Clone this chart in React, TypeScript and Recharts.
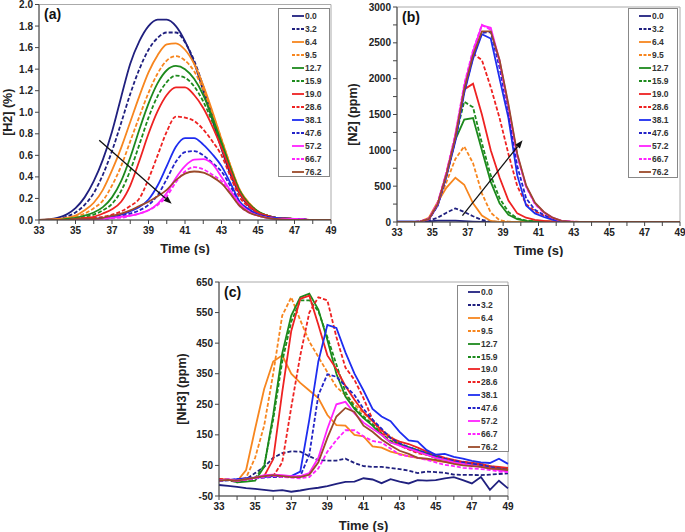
import { LineChart, Line, XAxis, YAxis, ReferenceArea, ReferenceLine, Legend } from 'recharts'

const FONT = '"Liberation Sans", Arial, sans-serif'

// legend entries shared by all three panels
const labels = ['0.0', '3.2', '6.4', '9.5', '12.7', '15.9', '19.0', '28.6', '38.1', '47.6', '57.2', '66.7', '76.2']
const colors = ['#20207f', '#20207f', '#f7861f', '#f7861f', '#1d8a1d', '#1d8a1d', '#ee2222', '#ee2222', '#1e2df0', '#2424c8', '#ff22ff', '#ff22ff', '#9b4a2a']
const dashed = [false, true, false, true, false, true, false, true, false, true, false, true, false]

const timeTicks = [33, 34, 35, 36, 37, 38, 39, 40, 41, 42, 43, 44, 45, 46, 47, 48, 49]

// (a) H2 (%)
const timeA = [33, 34, 34.5, 35, 35.5, 36, 36.5, 37, 37.5, 38, 38.5, 39, 39.5, 40, 40.5, 41, 41.5, 42, 42.5, 43, 43.5, 44, 44.5, 45, 45.5, 46, 47, 48, 49]
const h2_00 = [0, 0.02, 0.05, 0.11, 0.21, 0.36, 0.56, 0.82, 1.14, 1.45, 1.66, 1.80, 1.86, 1.86, 1.80, 1.66, 1.46, 1.20, 0.93, 0.66, 0.42, 0.24, 0.13, 0.07, 0.04, 0.02, 0.01, 0, 0]
const h2_32 = [0, 0.01, 0.03, 0.07, 0.14, 0.25, 0.42, 0.64, 0.90, 1.17, 1.40, 1.58, 1.69, 1.74, 1.74, 1.65, 1.48, 1.24, 0.97, 0.70, 0.45, 0.25, 0.14, 0.07, 0.04, 0.02, 0.01, 0, 0]
const h2_64 = [0, 0.01, 0.02, 0.04, 0.09, 0.16, 0.28, 0.46, 0.67, 0.91, 1.15, 1.37, 1.53, 1.63, 1.64, 1.58, 1.45, 1.25, 1.01, 0.75, 0.50, 0.28, 0.16, 0.08, 0.04, 0.02, 0.01, 0, 0]
const h2_95 = [0, 0, 0.01, 0.03, 0.06, 0.11, 0.18, 0.32, 0.50, 0.73, 0.96, 1.18, 1.36, 1.48, 1.52, 1.48, 1.38, 1.21, 0.99, 0.75, 0.50, 0.28, 0.16, 0.08, 0.04, 0.02, 0.01, 0, 0]
const h2_127 = [0, 0, 0.01, 0.02, 0.04, 0.07, 0.12, 0.21, 0.36, 0.58, 0.84, 1.08, 1.27, 1.39, 1.43, 1.40, 1.31, 1.16, 0.95, 0.72, 0.48, 0.27, 0.15, 0.08, 0.04, 0.02, 0.01, 0, 0]
const h2_159 = [0, 0, 0, 0.01, 0.03, 0.05, 0.09, 0.15, 0.27, 0.46, 0.70, 0.95, 1.15, 1.28, 1.34, 1.32, 1.24, 1.10, 0.91, 0.70, 0.47, 0.26, 0.15, 0.08, 0.04, 0.02, 0.01, 0, 0]
const h2_190 = [0, 0, 0, 0.01, 0.02, 0.03, 0.06, 0.10, 0.17, 0.32, 0.55, 0.80, 1.01, 1.16, 1.23, 1.23, 1.16, 1.04, 0.87, 0.67, 0.45, 0.25, 0.14, 0.07, 0.04, 0.02, 0.01, 0, 0]
const h2_286 = [0, 0, 0, 0, 0.01, 0.02, 0.03, 0.05, 0.08, 0.13, 0.20, 0.38, 0.60, 0.82, 0.96, 0.95, 0.92, 0.84, 0.73, 0.60, 0.40, 0.21, 0.12, 0.06, 0.03, 0.02, 0.01, 0, 0]
const h2_381 = [0, 0, 0, 0, 0, 0.01, 0.02, 0.03, 0.05, 0.08, 0.12, 0.19, 0.32, 0.50, 0.68, 0.76, 0.76, 0.70, 0.61, 0.50, 0.34, 0.17, 0.10, 0.05, 0.03, 0.02, 0.01, 0, 0]
const h2_476 = [0, 0, 0, 0, 0, 0, 0.01, 0.02, 0.04, 0.06, 0.09, 0.14, 0.23, 0.38, 0.54, 0.63, 0.64, 0.60, 0.53, 0.45, 0.31, 0.16, 0.09, 0.05, 0.03, 0.01, 0.01, 0, 0]
const h2_572 = [0, 0, 0, 0, 0, 0, 0.01, 0.02, 0.03, 0.04, 0.06, 0.09, 0.15, 0.25, 0.39, 0.50, 0.56, 0.565, 0.52, 0.40, 0.27, 0.15, 0.08, 0.04, 0.02, 0.01, 0.01, 0, 0]
const h2_667 = [0, 0, 0, 0, 0, 0, 0.01, 0.02, 0.02, 0.04, 0.06, 0.09, 0.14, 0.22, 0.35, 0.45, 0.49, 0.47, 0.42, 0.36, 0.25, 0.13, 0.07, 0.04, 0.02, 0.01, 0.01, 0, 0]
const h2_762 = [0, 0, 0, 0.01, 0.01, 0.01, 0.02, 0.04, 0.06, 0.09, 0.13, 0.17, 0.22, 0.28, 0.37, 0.43, 0.45, 0.44, 0.40, 0.34, 0.24, 0.13, 0.07, 0.04, 0.02, 0.01, 0, 0, 0]
const h2 = [h2_00, h2_32, h2_64, h2_95, h2_127, h2_159, h2_190, h2_286, h2_381, h2_476, h2_572, h2_667, h2_762]

// (b) N2 (ppm)
const timeB = [33, 33.8, 34.3, 34.8, 35.3, 35.8, 36.3, 36.8, 37.3, 37.8, 38.3, 38.8, 39.3, 39.8, 40.3, 40.8, 41.3, 41.8, 42.3, 42.8, 43.8, 44.8, 45.8, 46.8, 47.8, 49]
const n2_00 = [5, 5, 2, 10, 18, 20, 18, 12, 6, 2, 0, 0, 0, 0, 0, 0, 0, 0, 0, 0, 0, 0, 0, 0, 0, 0]
const n2_32 = [0, 0, 2, 20, 60, 130, 190, 140, 80, 30, 5, 0, 0, 0, 0, 0, 0, 0, 0, 0, 0, 0, 0, 0, 0, 0]
const n2_64 = [0, 0, 5, 60, 280, 480, 618, 520, 260, 90, 15, 0, 0, 0, 5, 10, 10, 5, 0, 0, 0, 0, 0, 0, 0, 0]
const n2_95 = [0, 0, 5, 40, 250, 560, 880, 1055, 820, 400, 130, 25, 5, 0, 5, 10, 10, 5, 0, 0, 0, 0, 0, 0, 0, 0]
const n2_127 = [0, 0, 5, 40, 250, 650, 1150, 1430, 1450, 1000, 560, 260, 100, 40, 15, 10, 5, 0, 0, 0, 0, 0, 0, 0, 0, 0]
const n2_159 = [0, 0, 5, 40, 250, 670, 1180, 1679, 1600, 1100, 650, 330, 140, 50, 20, 10, 5, 0, 0, 0, 0, 0, 0, 0, 0, 0]
const n2_190 = [0, 0, 5, 40, 250, 680, 1190, 1850, 1930, 1500, 1000, 620, 300, 120, 60, 30, 15, 5, 0, 0, 0, 0, 0, 0, 0, 0]
const n2_286 = [0, 0, 5, 40, 250, 680, 1200, 1860, 2350, 2260, 1880, 1450, 950, 500, 250, 150, 90, 50, 15, 5, 0, 0, 0, 0, 0, 0]
const n2_381 = [5, 5, 5, 35, 230, 640, 1130, 1800, 2280, 2620, 2560, 2000, 1450, 650, 230, 120, 70, 30, 8, 3, 0, 0, 0, 0, 0, 0]
const n2_476 = [0, 0, 5, 35, 230, 650, 1150, 1820, 2300, 2640, 2650, 2150, 1520, 780, 330, 170, 100, 45, 12, 3, 0, 0, 0, 0, 0, 0]
const n2_572 = [0, 0, 5, 40, 250, 680, 1200, 1900, 2380, 2745, 2710, 2250, 1620, 930, 500, 260, 140, 60, 15, 5, 0, 0, 0, 0, 0, 0]
const n2_667 = [0, 0, 5, 45, 270, 700, 1230, 1920, 2400, 2750, 2680, 2230, 1600, 920, 490, 250, 130, 55, 12, 4, 0, 0, 0, 0, 0, 0]
const n2_762 = [0, 0, 5, 40, 250, 670, 1180, 1850, 2330, 2660, 2660, 2260, 1640, 950, 510, 270, 140, 60, 15, 5, 0, 0, 0, 0, 0, 0]
const n2 = [n2_00, n2_32, n2_64, n2_95, n2_127, n2_159, n2_190, n2_286, n2_381, n2_476, n2_572, n2_667, n2_762]

// (c) NH3 (ppm)
const timeC = [33, 33.5, 34, 34.5, 35, 35.5, 36, 36.5, 37, 37.5, 38, 38.5, 39, 39.5, 40, 40.5, 41, 41.5, 42, 42.5, 43, 43.5, 44, 44.5, 45, 45.5, 46, 46.5, 47, 47.5, 48, 48.5, 49]
const nh3_00 = [-14, -17, -20, -24, -27, -30, -33, -31, -36, -32, -27, -23, -18, -10, -4, -3, 8, 4, -8, 5, -3, -9, 2, 0, 2, 8, 12, 2, -9, 12, -30, 0, -25]
const nh3_32 = [0, 2, -5, 5, 25, 45, 75, 90, 96, 95, 80, 67, 66, 66, 72, 58, 48, 45, 45, 42, 38, 33, 25, 30, 28, 26, 20, 19, 19, 18, 20, 22, 24]
const nh3_64 = [5, 3, -2, 35, 170, 300, 390, 410, 350, 320, 295, 270, 215, 182, 180, 150, 145, 112, 108, 95, 88, 80, 75, 70, 65, 62, 58, 55, 52, 48, 45, 42, 40]
const nh3_95 = [5, 3, 0, 10, 75, 180, 350, 540, 600, 525, 455, 405, 355, 307, 280, 250, 220, 195, 165, 145, 120, 105, 95, 85, 78, 72, 65, 58, 55, 50, 45, 40, 35]
const nh3_127 = [0, 5, -5, -3, 0, 45, 215, 416, 540, 600, 612, 560, 460, 350, 275, 235, 205, 180, 150, 125, 118, 105, 95, 85, 75, 70, 63, 58, 55, 52, 45, 40, 35]
const nh3_159 = [0, 3, -3, 0, 8, 50, 200, 390, 520, 590, 590, 555, 470, 380, 290, 240, 210, 185, 155, 130, 120, 110, 100, 90, 80, 72, 65, 60, 58, 55, 48, 42, 38]
const nh3_190 = [5, 3, 0, 5, 10, 15, 70, 290, 490, 595, 605, 510, 410, 365, 310, 265, 225, 195, 165, 140, 128, 120, 108, 95, 85, 75, 68, 62, 58, 55, 48, 45, 42]
const nh3_286 = [5, 3, 0, 5, 10, 15, 15, 60, 240, 410, 550, 600, 590, 470, 370, 330, 270, 200, 155, 140, 115, 102, 90, 85, 75, 70, 65, 60, 58, 52, 45, 40, 38]
const nh3_381 = [0, 2, 5, 8, 10, 12, 15, 15, 15, 30, 200, 390, 510, 500, 420, 350, 295, 235, 210, 195, 160, 132, 128, 100, 85, 88, 78, 72, 65, 60, 58, 72, 55]
const nh3_476 = [0, 2, 5, 5, 8, 10, 12, 12, 12, 15, 85, 280, 348, 340, 310, 280, 235, 200, 170, 140, 122, 110, 100, 90, 80, 72, 65, 60, 55, 52, 45, 40, 35]
const nh3_572 = [0, 5, 0, 5, 10, 18, 20, 18, 15, 15, 25, 75, 170, 250, 258, 220, 190, 170, 150, 125, 115, 105, 95, 85, 75, 68, 60, 55, 50, 45, 40, 35, 30]
const nh3_667 = [0, 3, 0, 3, 8, 12, 15, 12, 10, 8, 12, 40, 95, 133, 165, 165, 145, 130, 125, 105, 85, 80, 75, 68, 60, 52, 48, 42, 40, 38, 35, 30, 28]
const nh3_762 = [0, 3, 0, 5, 10, 15, 18, 15, 12, 12, 20, 60, 140, 210, 238, 225, 180, 160, 135, 115, 98, 88, 75, 72, 68, 62, 55, 50, 48, 45, 40, 38, 35]
const nh3 = [nh3_00, nh3_32, nh3_64, nh3_95, nh3_127, nh3_159, nh3_190, nh3_286, nh3_381, nh3_476, nh3_572, nh3_667, nh3_762]

const ticksA = [0, 0.2, 0.4, 0.6, 0.8, 1.0, 1.2, 1.4, 1.6, 1.8, 2.0]
const ticksB = [0, 250, 500, 750, 1000, 1250, 1500, 1750, 2000, 2250, 2500, 2750, 3000]
const ticksC = [-50, 50, 150, 250, 350, 450, 550, 650]

function toRows(times: number[], series: number[][]) {
  return times.map((t, i) => {
    const row: any = { t }
    series.forEach((s, j) => { row['s' + j] = s[i] })
    return row
  })
}

const Arrow = (p: any) => {
  const { x1, y1, x2, y2 } = p
  const a = Math.atan2(y2 - y1, x2 - x1)
  const L = 8, W = 3
  const bx = x2 - L * Math.cos(a), by = y2 - L * Math.sin(a)
  const pts = `${x2},${y2} ${bx - W * Math.sin(a)},${by + W * Math.cos(a)} ${bx + W * Math.sin(a)},${by - W * Math.cos(a)}`
  return (
    <g>
      <line x1={x1} y1={y1} x2={bx} y2={by} stroke="#111" strokeWidth={1.3} />
      <polygon points={pts} fill="#111" />
    </g>
  )
}

function LegendBox({ w, h, padL, rowH }: any) {
  return (
    <div style={{ width: w, height: h, border: '1px solid #888', background: '#fff', boxSizing: 'border-box', fontFamily: FONT }}>
      {labels.map((l, j) => (
        <div key={l} style={{ height: rowH, display: 'flex', alignItems: 'center', paddingLeft: padL }}>
          <svg width={12} height={4} style={{ display: 'block' }}>
            <line x1={0} y1={2} x2={12} y2={2} stroke={colors[j]} strokeWidth={1.8} strokeDasharray={dashed[j] ? '3 1.5' : undefined} />
          </svg>
          <span style={{ fontSize: 8.5, fontWeight: 'bold', color: '#333', marginLeft: 1, lineHeight: '8px' }}>{l}</span>
        </div>
      ))}
    </div>
  )
}

function Panel(props: any) {
  const { left, top, width, height, margin, yWidth, xHeight, rows, yDomain, yTicks, yFmt, yLabel, yLabelOff, letter, arrow, curve, legend } = props
  const tickStyle = { fontSize: 10, fontWeight: 'bold', fill: '#222', fontFamily: FONT }
  return (
    <div style={{ position: 'absolute', left, top }}>
      <LineChart width={width} height={height} data={rows} margin={margin}>
        <ReferenceArea x1={33} x2={49} y1={yDomain[0]} y2={yDomain[1]} fill="none" stroke="#aaa" strokeWidth={1}
          label={{ value: letter, position: 'insideTopLeft', offset: 5, fontSize: 14, fontWeight: 'bold', fill: '#111', fontFamily: FONT }} />
        <XAxis dataKey="t" type="number" domain={[33, 49]} ticks={timeTicks} interval={0} height={xHeight}
          tickFormatter={(v: number) => (v % 2 === 1 ? String(v) : '')} tick={tickStyle}
          stroke="#444" tickSize={4} tickMargin={3}
          label={{ value: 'Time (s)', position: 'insideBottom', offset: 2, fontSize: 13, fontWeight: 'bold', fill: '#222', fontFamily: FONT }} />
        <YAxis type="number" domain={yDomain} ticks={yTicks} interval={0} width={yWidth} allowDataOverflow
          tickFormatter={yFmt} tick={tickStyle} stroke="#444" tickSize={4} tickMargin={2}
          label={{ value: yLabel, angle: -90, position: 'insideLeft', offset: yLabelOff, fontSize: 12.5, fontWeight: 'bold', fill: '#222', fontFamily: FONT, style: { textAnchor: 'middle' } }} />
        {labels.map((l, j) => (
          <Line key={l} dataKey={'s' + j} type={curve} stroke={colors[j]} strokeWidth={1.8}
            strokeDasharray={dashed[j] ? '4 2' : undefined} dot={false} isAnimationActive={false} />
        ))}
        {arrow && <ReferenceLine segment={arrow} shape={Arrow} />}
        <Legend layout="horizontal" verticalAlign="middle" align="center"
          wrapperStyle={{ position: 'absolute', left: legend.x, top: legend.y, width: legend.w, height: legend.h }}
          content={() => <LegendBox w={legend.w} h={legend.h} padL={legend.padL} rowH={legend.rowH} />} />
      </LineChart>
    </div>
  )
}

export default function App() {
  return (
    <div style={{ position: 'absolute', left: 0, top: 0, width: 685, height: 532, background: '#fff', fontFamily: FONT }}>
      <Panel left={0} top={0} width={340} height={255} margin={{ top: 4.5, right: 9, bottom: 0, left: 0 }}
        yWidth={39} xHeight={35} rows={toRows(timeA, h2)} yDomain={[0, 2]} yTicks={ticksA}
        yFmt={(v: number) => v.toFixed(1)} yLabel="[H2]  (%)" yLabelOff={8} letter="(a)" curve="monotone"
        arrow={[{ x: 36.3, y: 0.74 }, { x: 40.27, y: 0.15 }]}
        legend={{ x: 278, y: 8, w: 52, h: 169, padL: 13, rowH: 13 }} />
      <Panel left={340} top={0} width={345} height={257} margin={{ top: 7, right: 5, bottom: 0, left: 0 }}
        yWidth={57} xHeight={35} rows={toRows(timeB, n2)} yDomain={[0, 3000]} yTicks={ticksB}
        yFmt={(v: number) => (v % 500 === 0 ? String(v) : '')} yLabel="[N2] (ppm)" yLabelOff={13} letter="(b)" curve="linear"
        arrow={[{ x: 36.7, y: 90 }, { x: 40.1, y: 1140 }]}
        legend={{ x: 288, y: 8, w: 50, h: 170, padL: 10, rowH: 13.08 }} />
      <Panel left={130} top={270} width={385} height={262} margin={{ top: 12, right: 7, bottom: 0, left: 0 }}
        yWidth={89} xHeight={36} rows={toRows(timeC, nh3)} yDomain={[-50, 650]} yTicks={ticksC}
        yFmt={(v: number) => String(v)} yLabel="[NH3] (ppm)" yLabelOff={52} letter="(c)" curve="linear"
        legend={{ x: 327, y: 15, w: 52, h: 167, padL: 10, rowH: 12.85 }} />
    </div>
  )
}
